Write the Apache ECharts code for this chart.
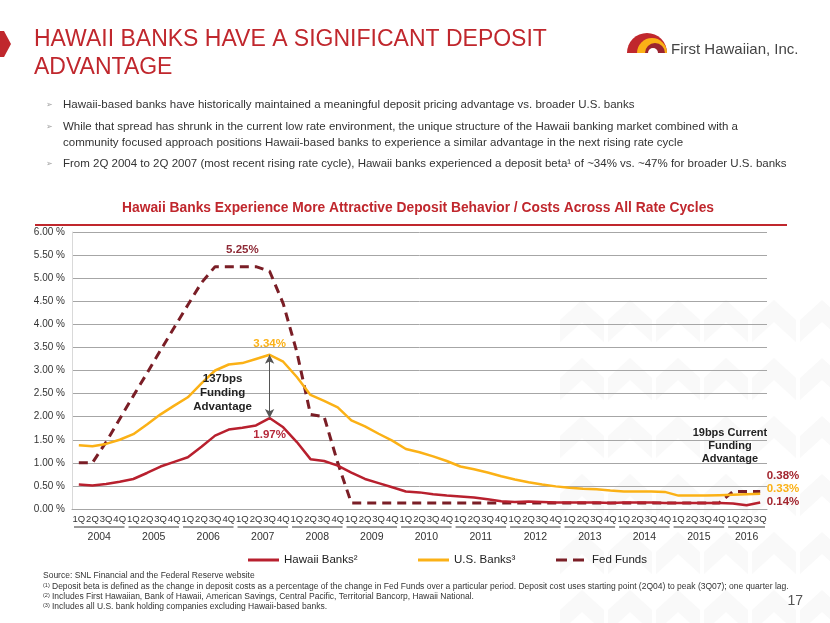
<!DOCTYPE html>
<html><head><meta charset="utf-8">
<script src="https://cdn.jsdelivr.net/npm/echarts@6/dist/echarts.min.js"></script>
<style>html,body{margin:0;padding:0;background:#fff}#c{width:830px;height:623px}</style>
</head><body><div id="c"></div>
<script>
const categories = ['1Q04','2Q04','3Q04','4Q04','1Q05','2Q05','3Q05','4Q05','1Q06','2Q06','3Q06','4Q06',
  '1Q07','2Q07','3Q07','4Q07','1Q08','2Q08','3Q08','4Q08','1Q09','2Q09','3Q09','4Q09',
  '1Q10','2Q10','3Q10','4Q10','1Q11','2Q11','3Q11','4Q11','1Q12','2Q12','3Q12','4Q12',
  '1Q13','2Q13','3Q13','4Q13','1Q14','2Q14','3Q14','4Q14','1Q15','2Q15','3Q15','4Q15',
  '1Q16','2Q16','3Q16'];
const years = ['2004','2005','2006','2007','2008','2009','2010','2011','2012','2013','2014','2015','2016'];
const yTicks = ['0.00 %','0.50 %','1.00 %','1.50 %','2.00 %','2.50 %','3.00 %','3.50 %','4.00 %','4.50 %','5.00 %','5.50 %','6.00 %'];
const hawaii = [0.53,0.51,0.54,0.59,0.65,0.78,0.92,1.02,1.12,1.35,
  1.59,1.72,1.76,1.81,1.97,1.77,1.45,1.08,1.04,0.94,
  0.79,0.65,0.56,0.47,0.38,0.36,0.32,0.29,0.27,0.25,
  0.21,0.17,0.15,0.16,0.15,0.14,0.14,0.14,0.14,0.13,
  0.14,0.14,0.14,0.13,0.13,0.13,0.13,0.13,0.12,0.08,
  0.14];
const usBanks = [1.38,1.36,1.41,1.50,1.62,1.83,2.05,2.24,2.42,2.72,
  3.00,3.13,3.16,3.25,3.34,3.19,2.86,2.47,2.34,2.20,
  1.92,1.79,1.63,1.48,1.30,1.23,1.14,1.04,0.92,0.86,
  0.79,0.71,0.64,0.58,0.53,0.49,0.46,0.44,0.43,0.40,
  0.38,0.38,0.38,0.37,0.29,0.29,0.29,0.30,0.31,0.32,
  0.33];
const fedFunds = [1.00,1.00,1.45,1.95,2.45,2.94,3.44,3.93,4.42,4.90,
  5.25,5.25,5.25,5.25,5.15,4.45,3.40,2.05,2.00,1.00,
  0.13,0.13,0.13,0.13,0.13,0.13,0.13,0.13,0.13,0.13,
  0.13,0.13,0.13,0.13,0.13,0.13,0.13,0.13,0.13,0.13,
  0.13,0.13,0.13,0.13,0.13,0.13,0.13,0.13,0.38,0.38,
  0.38];
const seriesNames = ['Hawaii Banks\u00b2','U.S. Banks\u00b3','Fed Funds'];

const RED = '#B8202E', ORANGE = '#FBB116', MAROON = '#7A1E26', TITLE_RED = '#C0272D';
const FONT = '"Liberation Sans", Arial, sans-serif';
const last = categories.length - 1;
const pk = 14;

function mp(cat, val, text, color, pos, extra) {
  return {
    coord: [cat, val], value: text, symbol: 'rect', symbolSize: 1,
    itemStyle: { color: 'rgba(0,0,0,0)' },
    label: Object.assign({ show: true, formatter: text, color: color, fontWeight: 'bold', fontSize: 11.5, fontFamily: FONT, position: pos }, extra || {})
  };
}

const chart = echarts.init(document.getElementById('c'), null, { renderer: 'canvas' });
const solidIcon = 'path://M0,0H31V3H0Z';
const dashIcon = 'path://M0,0H11V3H0Z M17,0H28V3H17Z M31,0H31V3H31Z';
const option = {
  animation: false,
  backgroundColor: '#fff',
  textStyle: { fontFamily: FONT },
  grid: { left: 72, right: 63, top: 232, bottom: 114, outerBoundsMode: 'none' },
  xAxis: [{
    type: 'category', data: categories, boundaryGap: true,
    axisLine: { show: true, lineStyle: { color: '#A6A6A6' } },
    axisTick: { show: false },
    axisLabel: { interval: 0, margin: 5, fontSize: 9.5, color: '#333', fontFamily: FONT, formatter: v => v.slice(0, 2) }
  }, {
    type: 'value', position: 'bottom', offset: 18, min: 0, max: categories.length, interval: 0.5,
    axisLine: { show: false }, axisTick: { show: false }, splitLine: { show: false },
    axisLabel: { margin: 5, fontSize: 10.5, color: '#333', fontFamily: FONT, showMinLabel: true, showMaxLabel: true,
      formatter: v => {
        const full = Math.floor(categories.length / 4);
        if (v < full * 4 && v % 4 === 2) return years[(v - 2) / 4];
        const rem = categories.length - full * 4;
        if (rem > 0 && Math.abs(v - (full * 4 + rem / 2)) < 1e-6) return years[full];
        return '';
      } }
  }],
  yAxis: {
    type: 'value', min: 0, max: 6, interval: 0.5,
    axisLine: { show: true, lineStyle: { color: '#D9D9D9' } },
    axisTick: { show: false },
    splitLine: { lineStyle: { color: '#A6A6A6', width: 1 } },
    axisLabel: { margin: 7, fontSize: 10, color: '#333', fontFamily: FONT, formatter: v => yTicks[Math.round(v / 0.5)] }
  },
  legend: [
    { data: [{ name: seriesNames[0], icon: solidIcon }], left: 243, top: 549 },
    { data: [{ name: seriesNames[1], icon: solidIcon }], left: 413, top: 549 },
    { data: [{ name: seriesNames[2], icon: dashIcon }], left: 551, top: 549 }
  ].map(l => Object.assign(l, { itemWidth: 31, itemHeight: 3, itemGap: 6, textStyle: { fontSize: 11.5, color: '#222', fontFamily: FONT }, selectedMode: false })),
  series: [{
    name: seriesNames[0], type: 'line', data: hawaii, symbol: 'none', z: 4,
    lineStyle: { color: RED, width: 2.5 }, itemStyle: { color: RED },
    markPoint: { silent: true, data: [
      mp(categories[pk], hawaii[pk], hawaii[pk].toFixed(2) + '%', '#B5283A', 'bottom', { distance: 10 }),
      mp(categories[last], hawaii[last], hawaii[last].toFixed(2) + '%', '#A3262F', 'right', { distance: 6, offset: [0, -1] })
    ] }
  }, {
    name: seriesNames[1], type: 'line', data: usBanks, symbol: 'none', z: 3,
    lineStyle: { color: ORANGE, width: 2.5 }, itemStyle: { color: ORANGE },
    markPoint: { silent: true, data: [
      mp(categories[pk], usBanks[pk], usBanks[pk].toFixed(2) + '%', ORANGE, 'top', { distance: 4 }),
      mp(categories[last], usBanks[last], usBanks[last].toFixed(2) + '%', ORANGE, 'right', { distance: 6, offset: [0, -5] }),
      mp(categories[pk], (usBanks[pk] + hawaii[pk]) / 2, '137bps\nFunding\nAdvantage', '#222', 'inside', { offset: [-47, 6], lineHeight: 14, fontSize: 11.5, align: 'center' }),
      mp(categories[48], 1.37, '19bps Current\nFunding\nAdvantage', '#222', 'inside', { offset: [-3, 0], lineHeight: 13, fontSize: 11, align: 'center' })
    ] },
    markLine: { silent: true, symbol: ['arrow', 'arrow'], symbolSize: [7, 9],
      lineStyle: { color: '#555', width: 1, type: 'solid' }, label: { show: false },
      data: [[{ coord: [categories[pk], usBanks[pk]] }, { coord: [categories[pk], hawaii[pk]] }]] }
  }, {
    name: seriesNames[2], type: 'line', data: fedFunds, symbol: 'none', z: 2,
    lineStyle: { color: MAROON, width: 3, type: [9, 6] }, itemStyle: { color: MAROON },
    markPoint: { silent: true, data: [
      mp(categories[12], fedFunds[12], fedFunds[12].toFixed(2) + '%', '#8E2A36', 'top', { distance: 10 }),
      mp(categories[last], fedFunds[last], fedFunds[last].toFixed(2) + '%', '#A3262F', 'right', { distance: 6, offset: [0, -16] })
    ] }
  }]
};
chart.setOption(option);

const g = [];
// faint watermark chevrons
for (let c = 0; c < 6; c++) {
  for (let r = 0; r < 6; r++) {
    const x0 = 560 + c * 48, y0 = 300 + r * 58;
    g.push({ type: 'polygon', silent: true, z: -10, shape: { points: [[x0, y0 + 20], [x0 + 22, y0], [x0 + 44, y0 + 20], [x0 + 44, y0 + 42], [x0 + 22, y0 + 22], [x0, y0 + 42]] }, style: { fill: '#F9F9F9' } });
  }
}
g.push({ type: 'polygon', shape: { points: [[0, 31], [4, 31], [11, 44], [4, 57], [0, 57]] }, style: { fill: TITLE_RED } });
g.push({ type: 'text', style: { x: 34, y: 40, text: 'HAWAII BANKS HAVE A SIGNIFICANT DEPOSIT', fill: TITLE_RED, font: '23px ' + FONT, verticalAlign: 'middle' } });
g.push({ type: 'text', style: { x: 34, y: 68, text: 'ADVANTAGE', fill: TITLE_RED, font: '23px ' + FONT, verticalAlign: 'middle' } });
// logo
const lx = 647, ly = 53;
[[0, 20, TITLE_RED], [5, 15, ORANGE], [8, 10, '#9B2430'], [6, 5, '#fff']].forEach(a => {
  g.push({ type: 'sector', shape: { cx: lx + a[0], cy: ly, r: a[1], r0: 0, startAngle: Math.PI, endAngle: 2 * Math.PI, clockwise: true }, style: { fill: a[2] } });
});
g.push({ type: 'text', style: { x: 671, y: 50, text: 'First Hawaiian, Inc.', fill: '#444', font: '15px ' + FONT, verticalAlign: 'middle' } });
// bullets
const bullets = [
  [105, 'Hawaii-based banks have historically maintained a meaningful deposit pricing advantage vs. broader U.S. banks', true],
  [127, 'While that spread has shrunk in the current low rate environment, the unique structure of the Hawaii banking market combined with a', true],
  [143, 'community focused approach positions Hawaii-based banks to experience a similar advantage in the next rising rate cycle', false],
  [164, 'From 2Q 2004 to 2Q 2007 (most recent rising rate cycle), Hawaii banks experienced a deposit beta\u00b9 of ~34% vs. ~47% for broader U.S. banks', true]
];
bullets.forEach(b => {
  if (b[2]) g.push({ type: 'text', style: { x: 46, y: b[0], text: '\u27A2', fill: '#A0A0A0', font: '8px "DejaVu Sans"', verticalAlign: 'middle' } });
  g.push({ type: 'text', style: { x: 63, y: b[0], text: b[1], fill: '#333', font: '11.5px ' + FONT, verticalAlign: 'middle' } });
});
// chart title
g.push({ type: 'text', style: { x: 418, y: 208, text: 'Hawaii Banks Experience More Attractive Deposit Behavior / Costs Across All Rate Cycles', fill: TITLE_RED, font: 'bold 13.8px ' + FONT, align: 'center', verticalAlign: 'middle' } });
g.push({ type: 'line', shape: { x1: 35, y1: 225, x2: 787, y2: 225 }, style: { stroke: TITLE_RED, lineWidth: 2 } });
// footnotes
g.push({ type: 'text', style: { x: 43, y: 576, text: 'Source: SNL Financial and the Federal Reserve website', fill: '#333', font: '8.5px ' + FONT, verticalAlign: 'middle' } });
const notes = [
  ['(1)', 'Deposit beta is defined as the change in deposit costs as a percentage of the change in Fed Funds over a particular period. Deposit cost uses starting point (2Q04) to peak (3Q07); one quarter lag.'],
  ['(2)', 'Includes First Hawaiian, Bank of Hawaii, American Savings, Central Pacific, Territorial Bancorp, Hawaii National.'],
  ['(3)', 'Includes all U.S. bank holding companies excluding Hawaii-based banks.']
];
notes.forEach((n, i) => {
  const y = 587 + i * 10;
  g.push({ type: 'text', style: { x: 43, y: y - 2, text: n[0], fill: '#333', font: '5.5px ' + FONT, verticalAlign: 'middle' } });
  g.push({ type: 'text', style: { x: 52, y: y, text: n[1], fill: '#333', font: '8.5px ' + FONT, verticalAlign: 'middle' } });
});
g.push({ type: 'text', style: { x: 803, y: 601, text: '17', fill: '#555', font: '14px ' + FONT, align: 'right', verticalAlign: 'middle' } });
// year group underlines under quarter labels
const y0px = chart.convertToPixel({ yAxisIndex: 0 }, 0);
for (let k = 0; k < years.length; k++) {
  const s = k * 4, e = Math.min(k * 4 + 4, categories.length);
  const xa = chart.convertToPixel({ xAxisIndex: 1 }, s) + 2;
  const xb = chart.convertToPixel({ xAxisIndex: 1 }, e) - 2;
  g.push({ type: 'line', shape: { x1: xa, y1: y0px + 18, x2: xb, y2: y0px + 18 }, style: { stroke: '#333', lineWidth: 1 } });
}
chart.setOption({ graphic: { elements: g } });
</script>
</body></html>
